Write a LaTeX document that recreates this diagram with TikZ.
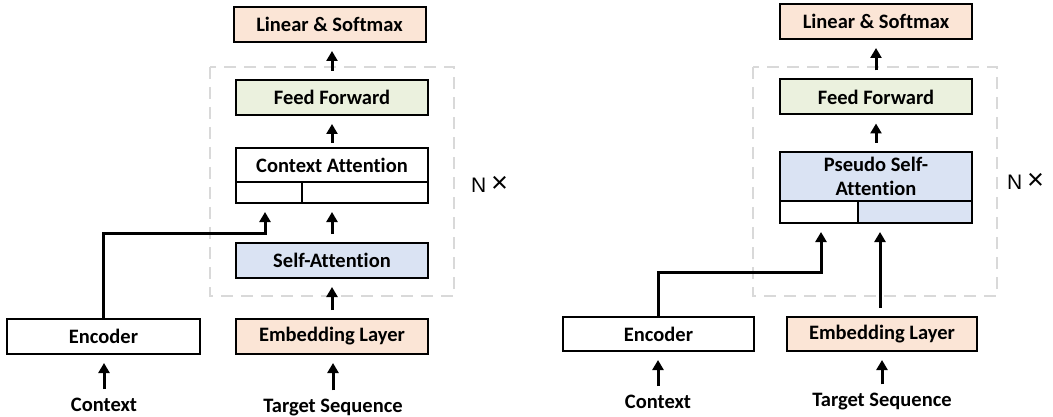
\documentclass[tikz,border=0pt]{standalone}
\usepackage{fontspec}
\setmainfont{Carlito}[Ligatures=NoCommon]
\newfontfamily\signfont{Liberation Sans}
\usetikzlibrary{arrows.meta}
\definecolor{PeachFill}{HTML}{FBE5D6}
\definecolor{GreenFill}{HTML}{EBF1DE}
\definecolor{BlueFill}{HTML}{DAE3F3}
\colorlet{DashGray}{black!15}

\newcommand{\repsign}{N{\fontsize{29}{29}\selectfont\,×}}

\tikzset{
  block/.style={draw, line width=2pt, inner sep=0pt, minimum width=192pt, minimum height=35pt,
    font=\bfseries\fontsize{20.5}{24}\selectfont, align=center},
  caption/.style={inner sep=1pt, font=\bfseries\fontsize{20.5}{24}\selectfont},
  flow/.style={line width=3pt, -{Triangle[length=10pt,width=11pt]}, shorten >=8pt, shorten <=8pt},
  dashbox/.style={draw=DashGray, line width=2.5pt, dash pattern=on 12pt off 8pt},
  repeat/.style={anchor=west, inner sep=0pt, font=\signfont\fontsize{21}{24}\selectfont},
}

\begin{document}
\begin{tikzpicture}[x=1pt, y=-1pt]
\useasboundingbox (0,0) rectangle (1053,417);

% context attention decoder
\draw [dashbox] (210,67) rectangle (454,296);
\node [block, fill=PeachFill] (lin) at (329.5,24.5) {Linear \& Softmax};
\node [block, fill=GreenFill] (ffwd) at (332,97.5) {Feed Forward};
\node [block, minimum height=34pt] (ctxatt) at (332,165) {Context Attention};
\node [block, minimum width=66pt, minimum height=21pt] (ctxkey) at (269,192.5) {};
\node [block, minimum width=126pt, minimum height=21pt] (ctxqry) at (365,192.5) {};
\node [block, fill=BlueFill] (selfatt) at (332,260.5) {Self-Attention};
\node [block, fill=PeachFill] (embed) at (332,336.5) {Embedding Layer};
\node [block, minimum width=193pt] (enc) at (103.5,336.5) {Encoder};
\node [caption] (ctxtxt) at (104,405) {Context};
\node [caption] (tgttxt) at (333,408) {Target Sequence};
\node [repeat] (rep) at (471,184) {\repsign};
\coordinate (ctxbend) at (265,233);

\draw [flow] (ffwd.north) -- (ffwd.north |- lin.south);
\draw [flow, shorten <=4pt] (ctxatt.north) -- (ctxatt.north |- ffwd.south);
\draw [flow] (selfatt.north) -- (selfatt.north |- ctxqry.south);
\draw [flow, shorten <=0pt] (enc.north) |- (ctxbend) -- (ctxbend |- ctxkey.south);
\draw [flow] (embed.north) -- (embed.north |- selfatt.south);
\draw [flow] (ctxtxt.north) -- (ctxtxt.north |- enc.south);
\draw [flow] (tgttxt.north) -- (tgttxt.north |- embed.south);

% pseudo self-attention decoder
\draw [dashbox] (753,67) rectangle (997,296);
\node [block, fill=PeachFill] (lintwo) at (876,21.5) {Linear \& Softmax};
\node [block, fill=GreenFill] (ffwdtwo) at (876,97) {Feed Forward};
\node [block, fill=BlueFill, minimum height=49pt] (psa) at (876,176.5) {Pseudo Self-\\Attention};
\node [block, minimum width=78pt, minimum height=22pt] (psakey) at (819,212) {};
\node [block, fill=BlueFill, minimum width=114pt, minimum height=22pt] (psaqry) at (915,212) {};
\node [block, minimum width=191pt, minimum height=34pt] (enctwo) at (658.5,334) {Encoder};
\node [block, minimum width=190pt, minimum height=34pt, fill=PeachFill] (embedtwo) at (882,334) {Embedding Layer};
\node [caption] (ctxtxttwo) at (658,402) {Context};
\node [caption] (tgttxttwo) at (882,402) {Target Sequence};
\node [repeat] (reptwo) at (1007,181) {\repsign};
\coordinate (psabend) at (821,272);
\coordinate (psaqryin) at (880,308);

\draw [flow] (ffwdtwo.north) -- (ffwdtwo.north |- lintwo.south);
\draw [flow] (psa.north) -- (psa.north |- ffwdtwo.south);
\draw [flow, shorten <=0pt] (enctwo.north) |- (psabend) -- (psabend |- psakey.south);
\draw [flow, shorten <=0pt] (psaqryin) -- (psaqryin |- psaqry.south);
\draw [flow] (ctxtxttwo.north) -- (ctxtxttwo.north |- enctwo.south);
\draw [flow] (tgttxttwo.north) -- (tgttxttwo.north |- embedtwo.south);

\end{tikzpicture}
\end{document}
